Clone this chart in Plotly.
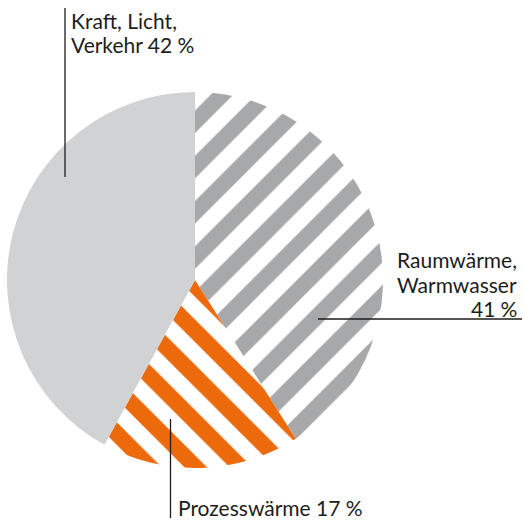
import plotly.graph_objects as go

# Energy use by purpose, shares in percent (clockwise from 12 o'clock)
categories = ["Raumwärme, Warmwasser", "Prozesswärme", "Kraft, Licht, Verkehr"]
shares = [41, 17, 42]

W, H = 523, 522
NBSP = "\u202f"

GRAY_STRIPE = "#a7a8aa"
LIGHT_GRAY = "#d1d2d4"
ORANGE = "#ec6a0c"
TEXT = "#1d1d1b"
FONT = "Lato"
FS = 21


def px(x):
    return x / W


def py(y):
    return 1 - y / H


# pie: centre (195, 280), radius 188 px
cx, cy, r = 195, 280, 188

fig = go.Figure(
    go.Pie(
        labels=categories,
        values=shares,
        sort=False,
        direction="clockwise",
        rotation=0,
        textinfo="none",
        hoverinfo="skip",
        showlegend=False,
        domain=dict(x=[px(cx - r), px(cx + r)], y=[py(cy + r), py(cy - r)]),
        marker=dict(
            colors=["white", "white", LIGHT_GRAY],
            line=dict(width=0),
            pattern=dict(
                shape=["/", "\\", ""],
                fgcolor=[GRAY_STRIPE, ORANGE, LIGHT_GRAY],
                bgcolor=["white", "white", LIGHT_GRAY],
                size=32,
                solidity=0.5,
                fillmode="replace",
            ),
        ),
    )
)


def label(text, x, baseline, anchor):
    fig.add_annotation(
        text=text,
        x=px(x),
        y=py(baseline - 0.35 * FS),
        xref="paper",
        yref="paper",
        xanchor=anchor,
        yanchor="middle",
        showarrow=False,
        font=dict(family=FONT, size=FS, color=TEXT),
        borderpad=0,
    )


def leader(x0, y0, x1, y1):
    fig.add_shape(
        type="line",
        xref="paper",
        yref="paper",
        x0=px(x0),
        y0=py(y0),
        x1=px(x1),
        y1=py(y1),
        line=dict(color=TEXT, width=1.3),
    )


# Kraft, Licht, Verkehr
leader(65, 8, 65, 177)
label("Kraft, Licht,", 70, 28, "left")
label(f"Verkehr {shares[2]}{NBSP}%", 70, 52, "left")

# Raumwärme, Warmwasser
leader(318, 319, 522, 319)
label("Raumwärme,", 518, 267, "right")
label("Warmwasser", 518, 292, "right")
label(f"{shares[0]}{NBSP}%", 518, 316, "right")

# Prozesswärme
leader(170.5, 419, 170.5, 518)
label(f"Prozesswärme {shares[1]}{NBSP}%", 177, 515, "left")

fig.update_layout(
    width=W,
    height=H,
    margin=dict(l=0, r=0, t=0, b=0),
    paper_bgcolor="white",
    plot_bgcolor="white",
)

fig.write_html("out.html")
